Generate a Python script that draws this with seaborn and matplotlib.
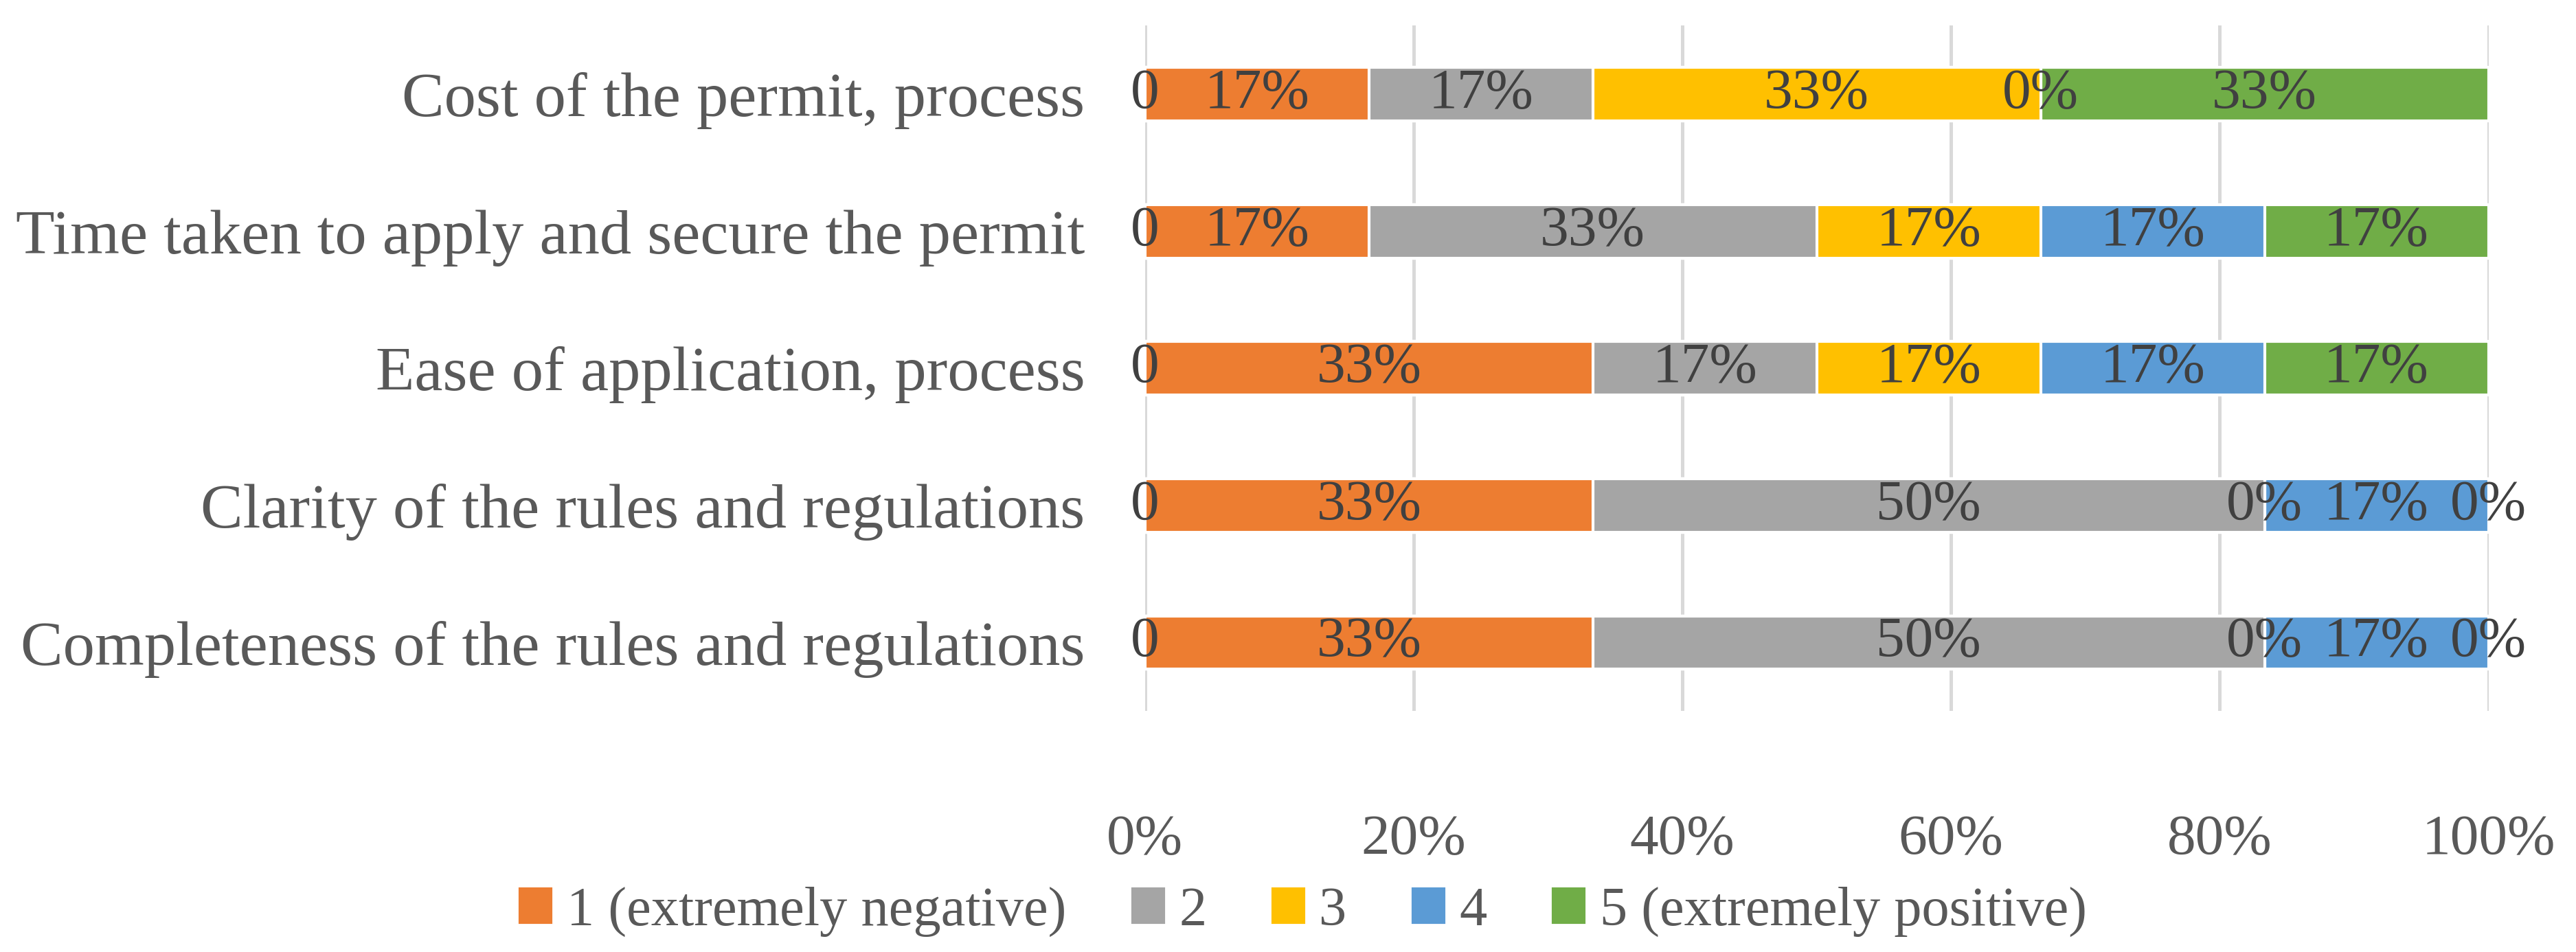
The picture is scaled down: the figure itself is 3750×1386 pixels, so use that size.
import numpy as np
import pandas as pd
import seaborn as sns
import matplotlib.pyplot as plt
from matplotlib.patches import Patch

# data: number of respondents (n = 6) per rating, top to bottom
categories = [
    "Cost of the permit, process",
    "Time taken to apply and secure the permit",
    "Ease of application, process",
    "Clarity of the rules and regulations",
    "Completeness of the rules and regulations",
]
series = ["1 (extremely negative)", "2", "3", "4", "5 (extremely positive)"]
counts_1 = [1, 1, 2, 2, 2]
counts_2 = [1, 2, 1, 3, 3]
counts_3 = [2, 1, 1, 0, 0]
counts_4 = [0, 1, 1, 1, 1]
counts_5 = [2, 1, 1, 0, 0]
no_answer = [0, 0, 0, 0, 0]
colors = ["#ED7D31", "#A5A5A5", "#FFC000", "#5B9BD5", "#70AD47"]
xticks = [0, 0.2, 0.4, 0.6, 0.8, 1.0]

counts = np.array([counts_1, counts_2, counts_3, counts_4, counts_5], dtype=float)
shares = counts / counts.sum(axis=0)
cum = np.cumsum(shares, axis=0)

sns.set_theme(style="whitegrid")
plt.rcParams["font.family"] = ["Liberation Serif", "DejaVu Serif"]
text_col = "#595959"
fs = 20

fig, ax = plt.subplots(figsize=(12.5, 4.62), dpi=300)
fig.subplots_adjust(left=0.4445, right=0.966, top=0.973, bottom=0.253)

# stacked bars: draw cumulative totals from the longest to the shortest
for i in reversed(range(len(series))):
    df = pd.DataFrame({"cat": categories, "val": cum[i]})
    sns.barplot(data=df, x="val", y="cat", color=colors[i], width=0.39,
                saturation=1, ax=ax, order=categories, zorder=2)

# segment labels
for j in range(len(categories)):
    ax.text(0, j, "{:.0f}".format(no_answer[j]), ha="center", va="center",
            fontsize=fs, color="#404040", zorder=5)
    start = 0
    for i in range(len(series)):
        ax.text(start + shares[i, j] / 2, j, "{:.0%}".format(shares[i, j]),
                ha="center", va="center", fontsize=fs, color="#404040", zorder=5)
        start += shares[i, j]

ax.set_xlim(0, 1)
ax.set_xticks(xticks)
ax.set_xticklabels(["{:.0%}".format(t) for t in xticks])
ax.set_xlabel("")
ax.set_ylabel("")
ax.grid(axis="x", color="#D9D9D9", linewidth=1.2, zorder=0)
ax.grid(axis="y", visible=False)
for s in ax.spines.values():
    s.set_visible(False)
ax.tick_params(axis="x", length=0, pad=36, labelsize=fs, labelcolor=text_col)
ax.tick_params(axis="y", length=0, pad=21, labelsize=22.2, labelcolor=text_col)

handles = [Patch(color=c) for c in colors]
fig.legend(handles, series, loc="center", bbox_to_anchor=(0.506, 0.042), ncol=5,
           frameon=False, fontsize=19.3, labelcolor=text_col, handlelength=0.56,
           handleheight=0.56, handletextpad=0.28, columnspacing=1.2)

fig.savefig("out.png", dpi=300)
